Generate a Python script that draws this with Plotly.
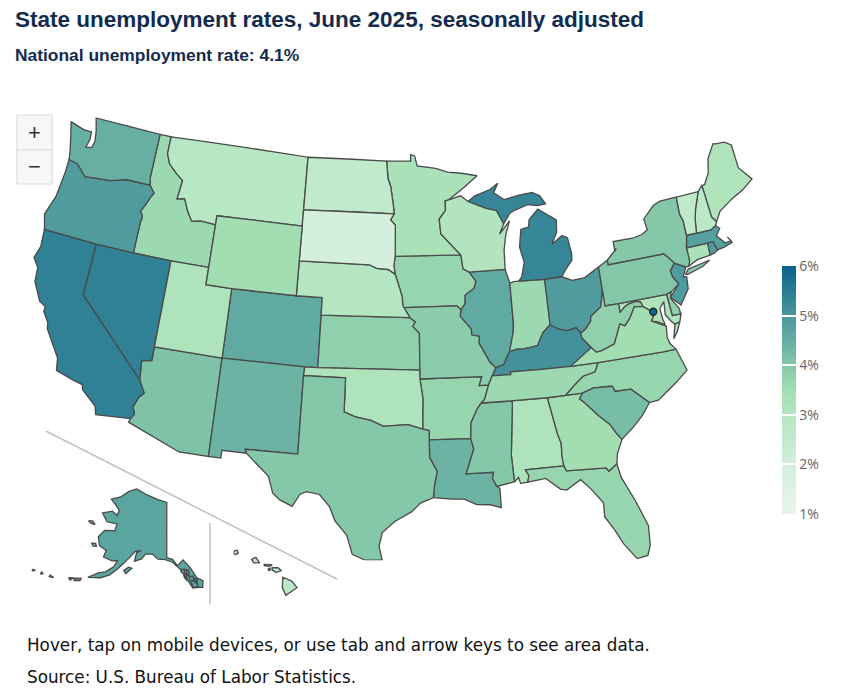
import math
import plotly.graph_objects as go
from plotly.colors import sample_colorscale

TITLE = "State unemployment rates, June 2025, seasonally adjusted"
SUBTITLE = "National unemployment rate: 4.1%"
NOTE = "Hover, tap on mobile devices, or use tab and arrow keys to see area data."
SOURCE = "Source: U.S. Bureau of Labor Statistics."

states = ["AL","AK","AZ","AR","CA","CO","CT","DE","FL","GA","HI","ID","IL","IN","IA","KS","KY","LA","ME","MD",
          "MA","MI","MN","MS","MO","MT","NE","NV","NH","NJ","NM","NY","NC","ND","OH","OK","OR","PA","RI","SC",
          "SD","TN","TX","UT","VT","VA","WA","WV","WI","WY"]
rates = [3.2,4.7,4.1,3.7,5.4,4.6,3.3,3.8,3.7,3.5,2.8,3.6,4.6,3.6,3.7,3.8,5.1,4.4,3.2,3.2,
         4.8,5.3,3.3,4.0,3.9,2.9,3.0,5.4,2.8,4.9,4.4,4.0,3.7,2.6,4.9,3.2,4.9,4.0,4.9,4.2,
         1.9,3.6,4.0,3.2,2.6,3.5,4.5,3.8,3.1,3.5]
dc_name = ["District of Columbia"]
dc_rate = [5.9]
dc_lon = [-77.03]
dc_lat = [38.9]
tick_values = [1,2,3,4,5,6]
tick_labels = ["1%","2%","3%","4%","5%","6%"]

# State boundaries (lon, lat), one list of rings per state: geographic data handed to the projection.
BOUNDARIES = {
"WA":[[(-124.73,48.38),(-123.5,48.15),(-122.8,48.15),(-122.75,47.7),(-122.9,47.2),(-122.4,47.3),(-122.3,47.7),(-122.45,48.3),(-122.75,49.0),(-117.03,49.0),(-117.04,46.42),(-116.92,46.0),(-118.98,46.0),(-119.3,45.93),(-120.2,45.72),(-121.2,45.65),(-122.3,45.55),(-122.8,45.9),(-123.2,46.15),(-123.95,46.25),(-124.1,46.8),(-124.4,47.6)]],
"OR":[[(-123.95,46.25),(-123.2,46.15),(-122.8,45.9),(-122.3,45.55),(-121.2,45.65),(-120.2,45.72),(-119.3,45.93),(-118.98,46.0),(-116.92,46.0),(-116.46,45.61),(-116.67,45.32),(-116.85,44.98),(-117.22,44.4),(-117.03,44.24),(-116.95,44.08),(-117.03,43.83),(-117.03,42.0),(-120.0,42.0),(-124.21,42.0),(-124.56,42.84),(-124.1,44.0),(-123.95,45.5)]],
"CA":[[(-124.21,42.0),(-120.0,42.0),(-120.0,39.0),(-114.63,35.0),(-114.14,34.3),(-114.45,34.0),(-114.72,33.4),(-114.52,33.03),(-114.72,32.72),(-117.12,32.53),(-117.3,33.0),(-118.4,33.75),(-118.5,34.03),(-119.2,34.15),(-120.5,34.45),(-120.65,35.15),(-121.9,36.6),(-122.0,36.95),(-122.5,37.5),(-122.5,37.8),(-123.0,38.0),(-123.75,39.0),(-123.85,39.8),(-124.35,40.3),(-124.1,41.0)]],
"NV":[[(-120.0,42.0),(-117.03,42.0),(-114.04,42.0),(-114.04,37.0),(-114.04,36.2),(-114.75,36.1),(-114.63,35.0),(-120.0,39.0)]],
"ID":[[(-117.03,49.0),(-116.05,49.0),(-116.05,48.0),(-115.7,47.45),(-115.0,47.0),(-114.35,46.65),(-114.5,45.55),(-113.9,45.65),(-113.45,44.95),(-113.0,44.45),(-112.3,44.55),(-111.05,44.48),(-111.05,42.0),(-114.04,42.0),(-117.03,42.0),(-117.03,43.83),(-116.95,44.08),(-117.03,44.24),(-117.22,44.4),(-116.85,44.98),(-116.67,45.32),(-116.46,45.61),(-116.92,46.0),(-117.04,46.42)]],
"MT":[[(-116.05,49.0),(-104.05,49.0),(-104.05,45.94),(-104.05,45.0),(-111.05,45.0),(-111.05,44.48),(-112.3,44.55),(-113.0,44.45),(-113.45,44.95),(-113.9,45.65),(-114.5,45.55),(-114.35,46.65),(-115.0,47.0),(-115.7,47.45),(-116.05,48.0)]],
"WY":[[(-111.05,45.0),(-104.05,45.0),(-104.05,43.0),(-104.05,41.0),(-109.05,41.0),(-111.05,41.0),(-111.05,42.0),(-111.05,44.48)]],
"UT":[[(-114.04,42.0),(-111.05,42.0),(-111.05,41.0),(-109.05,41.0),(-109.05,37.0),(-114.04,37.0)]],
"AZ":[[(-114.04,37.0),(-109.05,37.0),(-109.05,31.33),(-111.07,31.33),(-114.81,32.5),(-114.72,32.72),(-114.52,33.03),(-114.72,33.4),(-114.45,34.0),(-114.14,34.3),(-114.63,35.0),(-114.75,36.1),(-114.04,36.2)]],
"CO":[[(-109.05,41.0),(-104.05,41.0),(-102.05,41.0),(-102.05,40.0),(-102.05,37.0),(-103.0,37.0),(-109.05,37.0)]],
"NM":[[(-109.05,37.0),(-103.0,37.0),(-103.04,36.5),(-103.04,32.0),(-106.62,32.0),(-106.53,31.78),(-108.21,31.78),(-108.21,31.33),(-109.05,31.33)]],
"ND":[[(-104.05,49.0),(-97.23,49.0),(-97.1,48.0),(-96.85,47.5),(-96.6,46.3),(-96.56,45.94),(-104.05,45.94)]],
"SD":[[(-104.05,45.94),(-96.56,45.94),(-96.85,45.6),(-96.45,45.3),(-96.45,43.5),(-96.55,43.0),(-96.45,42.49),(-97.0,42.75),(-97.9,42.8),(-98.5,43.0),(-104.05,43.0),(-104.05,45.0)]],
"NE":[[(-104.05,43.0),(-98.5,43.0),(-97.9,42.8),(-97.0,42.75),(-96.45,42.49),(-96.1,41.7),(-95.9,41.2),(-95.85,40.7),(-95.77,40.58),(-95.31,40.0),(-102.05,40.0),(-102.05,41.0),(-104.05,41.0)]],
"KS":[[(-102.05,40.0),(-95.31,40.0),(-94.9,39.75),(-95.1,39.5),(-94.61,39.11),(-94.62,37.0),(-102.05,37.0)]],
"OK":[[(-103.0,37.0),(-102.05,37.0),(-94.62,37.0),(-94.62,36.5),(-94.43,35.4),(-94.48,33.64),(-95.5,33.9),(-96.6,33.85),(-97.2,33.8),(-98.1,34.13),(-99.2,34.3),(-100.0,34.56),(-100.0,36.5),(-103.04,36.5)]],
"TX":[[(-103.04,36.5),(-100.0,36.5),(-100.0,34.56),(-99.2,34.3),(-98.1,34.13),(-97.2,33.8),(-96.6,33.85),(-95.5,33.9),(-94.48,33.64),(-94.04,33.55),(-94.04,33.02),(-94.04,32.0),(-93.55,31.2),(-93.75,30.4),(-93.84,29.7),(-94.7,29.4),(-95.3,28.9),(-96.4,28.35),(-97.2,27.7),(-97.4,26.9),(-97.15,25.96),(-97.6,25.85),(-98.2,26.05),(-99.1,26.4),(-99.5,27.5),(-100.3,28.3),(-100.7,29.1),(-101.4,29.77),(-102.3,29.88),(-102.7,29.7),(-103.15,28.98),(-104.0,29.3),(-104.5,29.65),(-104.9,30.6),(-106.0,31.4),(-106.53,31.78),(-106.62,32.0),(-103.04,32.0)]],
"MN":[[(-97.23,49.0),(-95.15,49.0),(-95.15,49.38),(-94.8,49.3),(-94.6,48.72),(-93.0,48.55),(-92.0,48.3),(-90.8,48.2),(-89.5,48.0),(-90.8,47.3),(-92.0,46.7),(-92.3,46.65),(-92.3,46.1),(-92.85,45.6),(-92.75,44.75),(-91.22,43.5),(-96.45,43.5),(-96.45,45.3),(-96.85,45.6),(-96.56,45.94),(-96.6,46.3),(-96.85,47.5),(-97.1,48.0)]],
"IA":[[(-96.45,43.5),(-91.22,43.5),(-91.1,42.7),(-90.65,42.5),(-90.15,41.95),(-90.35,41.55),(-91.05,41.2),(-91.1,40.7),(-91.42,40.38),(-91.72,40.6),(-95.77,40.58),(-95.85,40.7),(-95.9,41.2),(-96.1,41.7),(-96.45,42.49),(-96.55,43.0)]],
"MO":[[(-95.77,40.58),(-91.72,40.6),(-91.42,40.38),(-91.5,40.0),(-90.73,39.25),(-90.7,38.9),(-90.15,38.8),(-90.2,38.4),(-89.5,37.3),(-89.1,36.95),(-89.4,36.5),(-89.7,36.0),(-90.37,36.0),(-90.15,36.5),(-94.62,36.5),(-94.62,37.0),(-94.61,39.11),(-95.1,39.5),(-94.9,39.75),(-95.31,40.0)]],
"AR":[[(-94.62,36.5),(-90.15,36.5),(-90.37,36.0),(-89.7,36.0),(-90.05,35.2),(-90.3,35.0),(-90.6,34.7),(-91.1,33.9),(-91.17,33.0),(-94.04,33.02),(-94.04,33.55),(-94.48,33.64),(-94.43,35.4)]],
"LA":[[(-94.04,33.02),(-91.17,33.0),(-91.0,32.4),(-91.6,31.0),(-89.75,31.0),(-89.85,30.65),(-89.6,30.18),(-89.4,30.05),(-89.4,29.8),(-89.4,28.95),(-90.1,29.15),(-91.0,29.2),(-91.8,29.55),(-92.6,29.58),(-93.84,29.7),(-93.75,30.4),(-93.55,31.2),(-94.04,32.0)]],
"MS":[[(-91.17,33.0),(-91.1,33.9),(-90.6,34.7),(-90.3,35.0),(-88.2,35.0),(-88.1,34.9),(-88.47,31.9),(-88.4,30.37),(-89.6,30.18),(-89.85,30.65),(-89.75,31.0),(-91.6,31.0),(-91.0,32.4)]],
"AL":[[(-88.2,35.0),(-85.6,34.98),(-85.18,32.87),(-85.0,32.3),(-85.05,31.55),(-85.0,31.0),(-87.6,31.0),(-87.4,30.65),(-87.52,30.28),(-88.0,30.25),(-88.1,30.6),(-88.4,30.37),(-88.47,31.9),(-88.1,34.9)]],
"TN":[[(-89.4,36.5),(-88.05,36.5),(-88.05,36.65),(-86.0,36.63),(-83.68,36.6),(-81.68,36.59),(-82.0,36.1),(-82.9,35.95),(-83.5,35.57),(-84.3,35.0),(-85.6,34.98),(-88.2,35.0),(-90.3,35.0),(-90.05,35.2),(-89.7,36.0)]],
"KY":[[(-89.4,36.5),(-89.1,36.95),(-88.5,37.1),(-88.0,37.8),(-87.5,37.9),(-87.0,37.9),(-86.5,37.93),(-85.9,38.0),(-85.4,38.7),(-84.8,39.1),(-84.2,38.8),(-83.6,38.65),(-82.9,38.75),(-82.6,38.4),(-82.6,38.15),(-82.0,37.5),(-83.68,36.6),(-86.0,36.63),(-88.05,36.65),(-88.05,36.5)]],
"IL":[[(-91.42,40.38),(-91.1,40.7),(-91.05,41.2),(-90.35,41.55),(-90.15,41.95),(-90.65,42.5),(-87.8,42.5),(-87.53,41.7),(-87.53,39.35),(-87.6,38.9),(-88.0,37.8),(-88.5,37.1),(-89.1,36.95),(-89.5,37.3),(-90.2,38.4),(-90.15,38.8),(-90.7,38.9),(-90.73,39.25),(-91.5,40.0)]],
"WI":[[(-92.3,46.65),(-92.0,46.7),(-91.0,46.9),(-90.4,46.55),(-89.0,46.1),(-88.1,45.9),(-87.6,45.1),(-88.0,44.55),(-87.1,45.25),(-87.5,44.5),(-87.75,43.6),(-87.8,42.5),(-90.65,42.5),(-91.1,42.7),(-91.22,43.5),(-92.75,44.75),(-92.85,45.6),(-92.3,46.1)]],
"MI":[[(-86.82,41.76),(-84.81,41.7),(-83.45,41.73),(-83.15,42.05),(-82.5,42.6),(-82.45,43.0),(-82.6,43.9),(-83.0,44.07),(-83.9,43.65),(-83.4,44.3),(-83.3,45.0),(-84.7,45.75),(-85.5,45.2),(-85.6,44.8),(-86.25,44.7),(-86.5,43.7),(-86.25,42.8),(-86.55,42.0)],
      [(-90.4,46.55),(-89.8,46.85),(-88.5,47.15),(-87.8,47.47),(-88.2,46.95),(-87.4,46.5),(-86.1,46.67),(-85.0,46.75),(-84.4,46.5),(-84.0,46.0),(-84.7,45.95),(-85.5,46.08),(-86.5,45.85),(-87.0,45.7),(-87.6,45.1),(-88.1,45.9),(-89.0,46.1)]],
"IN":[[(-87.53,41.7),(-87.2,41.76),(-86.82,41.76),(-84.81,41.7),(-84.8,39.1),(-85.4,38.7),(-85.9,38.0),(-86.5,37.93),(-87.0,37.9),(-87.5,37.9),(-88.0,37.8),(-87.6,38.9),(-87.53,39.35)]],
"OH":[[(-84.81,41.7),(-83.45,41.73),(-82.7,41.45),(-81.7,41.5),(-80.52,41.98),(-80.52,40.64),(-80.7,40.1),(-80.85,39.7),(-81.7,39.25),(-81.75,39.0),(-82.2,38.6),(-82.6,38.4),(-82.9,38.75),(-83.6,38.65),(-84.2,38.8),(-84.8,39.1)]],
"WV":[[(-82.6,38.4),(-82.2,38.6),(-81.75,39.0),(-81.7,39.25),(-80.85,39.7),(-80.7,40.1),(-80.52,40.64),(-80.52,39.72),(-79.48,39.72),(-79.48,39.2),(-79.1,39.47),(-78.75,39.6),(-78.2,39.68),(-77.83,39.6),(-77.72,39.32),(-78.35,39.4),(-78.87,38.77),(-79.3,38.42),(-79.65,38.58),(-80.3,37.5),(-81.25,37.25),(-81.68,37.2),(-82.0,37.5),(-82.6,38.15)]],
"VA":[[(-83.68,36.6),(-82.0,37.5),(-81.68,37.2),(-81.25,37.25),(-80.3,37.5),(-79.65,38.58),(-79.3,38.42),(-78.87,38.77),(-78.35,39.4),(-77.72,39.32),(-77.1,38.9),(-77.05,38.7),(-77.3,38.4),(-76.3,37.95),(-76.4,37.3),(-76.3,36.95),(-75.95,36.55),(-76.9,36.55),(-81.68,36.59)],
      [(-75.95,37.15),(-75.65,37.95),(-75.25,38.03),(-75.6,37.5)]],
"MD":[[(-79.48,39.72),(-75.79,39.72),(-75.7,38.46),(-75.05,38.45),(-75.25,38.03),(-75.65,37.95),(-75.9,38.2),(-76.2,38.6),(-76.1,39.35),(-76.5,39.0),(-76.45,38.4),(-76.35,38.05),(-76.9,38.3),(-77.3,38.4),(-77.05,38.7),(-77.1,38.9),(-77.72,39.32),(-77.83,39.6),(-78.2,39.68),(-78.75,39.6),(-79.1,39.47),(-79.48,39.2)]],
"DE":[[(-75.79,39.72),(-75.4,39.8),(-75.55,39.45),(-75.1,38.8),(-75.05,38.45),(-75.7,38.46)]],
"PA":[[(-80.52,41.98),(-79.76,42.27),(-79.76,42.0),(-75.35,42.0),(-75.05,41.75),(-74.7,41.36),(-75.13,40.97),(-75.05,40.6),(-74.72,40.15),(-75.4,39.8),(-75.79,39.72),(-79.48,39.72),(-80.52,39.72),(-80.52,40.64)]],
"NJ":[[(-74.7,41.36),(-73.9,41.0),(-74.25,40.48),(-74.0,40.45),(-74.1,39.75),(-74.9,38.95),(-75.55,39.5),(-74.72,40.15),(-75.05,40.6),(-75.13,40.97)]],
"NY":[[(-79.76,42.27),(-79.76,42.0),(-75.35,42.0),(-75.05,41.75),(-74.7,41.36),(-73.9,41.0),(-73.65,41.0),(-73.5,41.3),(-73.5,42.05),(-73.26,42.75),(-73.25,43.6),(-73.4,44.0),(-73.34,45.01),(-74.7,45.0),(-75.3,44.85),(-76.3,44.2),(-76.2,43.55),(-76.7,43.35),(-77.5,43.25),(-79.05,43.27),(-79.05,42.7),(-78.9,42.85)],
      [(-74.03,40.6),(-73.75,40.85),(-72.6,40.98),(-72.0,41.05),(-72.6,40.8),(-73.9,40.55)]],
"CT":[[(-73.5,42.05),(-71.8,42.02),(-71.85,41.32),(-72.9,41.25),(-73.65,41.0),(-73.5,41.3)]],
"RI":[[(-71.8,42.02),(-71.38,42.02),(-71.2,41.5),(-71.5,41.37),(-71.85,41.32)]],
"MA":[[(-73.5,42.05),(-73.26,42.75),(-72.46,42.73),(-71.3,42.7),(-70.85,42.87),(-70.6,42.65),(-71.0,42.3),(-70.65,41.95),(-70.5,41.78),(-70.0,41.8),(-70.2,42.07),(-69.95,41.7),(-70.65,41.55),(-71.2,41.5),(-71.38,42.02),(-71.8,42.02)]],
"VT":[[(-73.26,42.75),(-72.46,42.73),(-72.3,43.5),(-72.05,44.1),(-71.5,45.01),(-73.34,45.01),(-73.4,44.0),(-73.25,43.6)]],
"NH":[[(-72.46,42.73),(-71.3,42.7),(-70.85,42.87),(-70.7,43.07),(-70.98,43.4),(-71.08,45.3),(-71.5,45.01),(-72.05,44.1),(-72.3,43.5)]],
"ME":[[(-71.08,45.3),(-70.98,43.4),(-70.7,43.07),(-70.2,43.6),(-69.0,44.1),(-68.0,44.4),(-67.0,44.85),(-67.8,45.7),(-67.8,47.07),(-68.3,47.35),(-69.05,47.4),(-69.25,47.45),(-70.0,46.7),(-70.3,45.9),(-70.85,45.3)]],
"NC":[[(-84.3,35.0),(-83.5,35.57),(-82.9,35.95),(-82.0,36.1),(-81.68,36.59),(-76.9,36.55),(-75.95,36.55),(-75.5,35.25),(-76.5,34.65),(-77.9,33.9),(-78.55,33.86),(-79.67,34.8),(-80.8,34.82),(-80.9,35.1),(-81.05,35.15),(-82.3,35.2),(-83.1,35.0)]],
"SC":[[(-83.1,35.0),(-82.3,35.2),(-81.05,35.15),(-80.9,35.1),(-80.8,34.82),(-79.67,34.8),(-78.55,33.86),(-79.2,33.2),(-80.0,32.6),(-80.85,32.05),(-81.2,32.5),(-81.5,33.0),(-82.2,33.6),(-83.0,34.4),(-83.35,34.7)]],
"GA":[[(-85.6,34.98),(-84.3,35.0),(-83.1,35.0),(-83.35,34.7),(-83.0,34.4),(-82.2,33.6),(-81.5,33.0),(-81.2,32.5),(-80.85,32.05),(-81.3,31.3),(-81.45,30.72),(-82.05,30.36),(-82.2,30.57),(-84.86,30.7),(-85.0,31.0),(-85.05,31.55),(-85.0,32.3),(-85.18,32.87)]],
"FL":[[(-87.6,31.0),(-85.0,31.0),(-84.86,30.7),(-82.2,30.57),(-82.05,30.36),(-81.45,30.72),(-81.3,29.9),(-80.6,28.4),(-80.05,26.9),(-80.15,25.75),(-80.4,25.2),(-81.1,25.12),(-81.8,26.1),(-82.2,26.9),(-82.75,27.8),(-82.7,28.6),(-83.4,29.5),(-84.0,30.1),(-85.0,29.6),(-85.4,29.7),(-86.3,30.4),(-87.52,30.28),(-87.4,30.65)]],
"AK":[[(-141.0,69.65),(-141.0,60.3),(-139.0,60.0),(-137.5,58.9),(-135.5,59.8),(-133.4,58.4),(-131.8,56.6),(-130.0,55.9),(-130.4,54.8),(-131.5,54.9),(-133.3,54.9),(-134.5,56.2),(-135.5,57.2),(-136.6,58.2),(-139.0,59.5),(-141.5,59.95),(-144.0,60.0),(-146.0,60.8),(-148.4,60.7),(-149.5,59.8),(-151.8,59.2),(-151.5,60.7),(-150.0,61.2),(-152.0,60.9),(-154.0,59.4),(-156.5,57.5),(-158.5,56.1),(-161.0,55.2),(-164.5,54.6),(-162.0,55.9),(-160.0,56.4),(-158.0,57.6),(-157.2,58.8),(-159.0,58.5),(-162.0,58.7),(-161.8,59.9),(-164.5,60.3),(-166.0,61.6),(-164.7,63.0),(-161.0,63.5),(-161.0,64.7),(-165.0,64.5),(-168.0,65.6),(-164.5,66.5),(-162.0,66.1),(-161.8,67.0),(-164.0,67.7),(-166.8,68.35),(-163.0,69.3),(-160.0,70.6),(-156.6,71.35),(-152.0,70.8),(-146.0,70.15)],
      [(-154.6,57.4),(-153.3,58.1),(-152.2,58.0),(-153.8,56.9)],
      [(-171.7,63.4),(-170.3,63.7),(-168.8,63.3),(-170.5,63.2)],
      [(-167.3,60.2),(-166.0,60.4),(-165.4,60.0),(-166.5,59.8)],
      [(-168.0,53.6),(-166.2,54.0),(-166.3,53.6),(-167.8,53.2)],
      [(-169.6,53.3),(-168.2,53.6),(-168.9,53.0)],
      [(-174.5,52.3),(-173.3,52.2),(-174.5,52.0)],
      [(-176.9,52.0),(-176.3,51.9),(-176.9,51.6)],
      [(-179.3,51.6),(-178.6,51.7),(-179.3,51.3)],
      [(-136.5,58.2),(-135.2,58.2),(-135.3,57.4),(-136.3,57.7)],
      [(-135.8,57.5),(-134.9,57.4),(-134.7,56.2),(-135.5,56.8)],
      [(-134.7,58.1),(-134.0,58.0),(-134.0,57.1),(-134.6,57.2)],
      [(-134.0,56.9),(-132.8,56.9),(-132.8,56.0),(-133.8,56.2)],
      [(-133.6,56.1),(-132.0,56.0),(-131.6,55.0),(-133.2,55.0)],
      [(-132.6,56.5),(-131.7,56.3),(-131.8,55.5),(-132.3,55.7)]],
"HI":[[(-155.88,20.26),(-155.2,19.98),(-154.8,19.5),(-155.65,18.95),(-155.92,19.5)],
      [(-156.7,20.95),(-156.25,20.95),(-156.0,20.75),(-156.4,20.6),(-156.7,20.8)],
      [(-157.3,21.2),(-156.7,21.17),(-156.85,21.05),(-157.3,21.1)],
      [(-158.27,21.55),(-157.95,21.7),(-157.65,21.3),(-158.1,21.3)],
      [(-159.75,22.1),(-159.4,22.23),(-159.3,22.0),(-159.55,21.88)],
      [(-156.98,20.9),(-156.85,20.9),(-156.85,20.75),(-156.98,20.77)],
      [(-160.25,22.0),(-160.1,22.0),(-160.1,21.8)]],
}

colorscale = [[0.0,"#e9f5ec"],[0.2,"#d3eedb"],[0.4,"#b5e6c2"],[0.5,"#a3deb2"],[0.6,"#84c7a9"],
              [0.8,"#4a969d"],[1.0,"#0a628c"]]
ZMIN, ZMAX = 1, 6
INSET = {"AK":"geo2","HI":"geo3"}

def clockwise(ring):
    area = sum(a[0]*b[1]-b[0]*a[1] for a, b in zip(ring, ring[1:]+ring[:1]))
    r = list(ring) if area < 0 else list(reversed(ring))
    return r + [r[0]]

W, H = 843, 700
px = lambda x: (x-8)/W
py = lambda y: 1-(y-8)/H

def albers(lon, lat, lon0, pars):
    p1, p2 = math.radians(pars[0]), math.radians(pars[1])
    n = (math.sin(p1)+math.sin(p2))/2
    c = math.cos(p1)**2 + 2*n*math.sin(p1)
    rho = math.sqrt(max(c-2*n*math.sin(math.radians(lat)),0))/n
    rho0 = math.sqrt(c)/n
    t = n*math.radians(lon-lon0)
    return rho*math.sin(t), rho*math.cos(t)-rho0

def view(codes, lon0, pars, lat_c, left, right, top, lon_half, lat_low, lat_high, pad_x, pad_y):
    """Frame one subplot so that the rings of `codes` land in the pixel box given."""
    pts = [albers(p[0],p[1],lon0,pars) for s in codes for r in BOUNDARIES[s] for p in r]
    xs, ys = [p[0] for p in pts], [p[1] for p in pts]
    k = (right-left)/(max(xs)-min(xs))
    _, yc = albers(lon0,lat_c,lon0,pars)
    mx = left-k*min(xs)
    my = top-k*(min(ys)-yc)
    hw = max(right-mx, mx-left)+pad_x
    hh = max(k*(max(ys)-min(ys))-(my-top), my-top)+pad_y
    lons = [lon0-lon_half+i*2*lon_half/60 for i in range(61)]
    lats = [lat_low+i*(lat_high-lat_low)/60 for i in range(61)]
    edge = [albers(l,lat_low,lon0,pars) for l in lons]+[albers(l,lat_high,lon0,pars) for l in lons] \
         + [albers(lon0-lon_half,a,lon0,pars) for a in lats]+[albers(lon0+lon_half,a,lon0,pars) for a in lats]
    bw = max(e[0] for e in edge)-min(e[0] for e in edge)
    bh = max(e[1] for e in edge)-min(e[1] for e in edge)
    fit = min(2*hw/bw, 2*hh/bh)
    return dict(
        projection=dict(type="albers", rotation=dict(lon=lon0), parallels=pars, scale=k/fit),
        center=dict(lon=lon0, lat=lat_c),
        lonaxis=dict(range=[lon0-lon_half, lon0+lon_half]),
        lataxis=dict(range=[lat_low, lat_high]),
        domain=dict(x=[px(mx-hw), px(mx+hw)], y=[py(my+hh), py(my-hh)]),
        showland=False, showlakes=False, showcoastlines=False, showcountries=False,
        showsubunits=False, showframe=False, showocean=False, showrivers=False,
        bgcolor="rgba(0,0,0,0)")

fig = go.Figure()
for s, v in zip(states, rates):
    lon, lat = [], []
    for ring in BOUNDARIES[s]:
        closed = clockwise(ring)
        lon += [p[0] for p in closed] + [None]
        lat += [p[1] for p in closed] + [None]
    fig.add_trace(go.Scattergeo(
        lon=lon[:-1], lat=lat[:-1], mode="lines", fill="toself", name=s, showlegend=False,
        geo=INSET.get(s, "geo"),
        fillcolor=sample_colorscale(colorscale, (v-ZMIN)/(ZMAX-ZMIN))[0],
        line=dict(color="#4a4a4a", width=1.3), hoverinfo="text", text=f"{s}: {v}%",
    ))
fig.add_trace(go.Scattergeo(
    lon=dc_lon, lat=dc_lat, text=dc_name, mode="markers", showlegend=False,
    marker=dict(size=7, color=dc_rate, cmin=ZMIN, cmax=ZMAX, colorscale=colorscale,
                line=dict(color="#222222", width=1.3), showscale=True,
                colorbar=dict(x=px(782), xanchor="left", y=py(266), yanchor="top", lenmode="pixels", len=248,
                  thickness=14, thicknessmode="pixels", outlinewidth=0, xpad=0, ypad=0,
                  tickmode="array", tickvals=tick_values, ticktext=tick_labels,
                  ticks="inside", ticklen=14, tickwidth=2, tickcolor="white",
                  tickfont=dict(family="Open Sans", size=14, color="#666666"))),
))

ann = []
def label(text, x, y, size, family, color, bold=False):
    ann.append(dict(text=f"<b>{text}</b>" if bold else text, xref="paper", yref="paper", x=px(x-1), y=py(y),
                    xanchor="left", yanchor="middle", showarrow=False,
                    font=dict(family=family, size=size, color=color)))
label(TITLE, 14, 20, 22.5, "Liberation Sans", "#122b4e", True)
label(SUBTITLE, 14, 55, 17.4, "Liberation Sans", "#122b4e", True)
label(NOTE, 26, 645, 16.8, "DejaVu Sans", "#111111")
label(SOURCE, 26, 677, 16.8, "DejaVu Sans", "#111111")
for sym, y in (("+",132),("−",167)):
    ann.append(dict(text=sym, xref="paper", yref="paper", x=px(34.5), y=py(y), xanchor="center", yanchor="middle",
                    showarrow=False, font=dict(family="Liberation Sans", size=22, color="#333333")))

shapes = []
def rect(x0,y0,x1,y1):
    shapes.append(dict(type="rect", xref="paper", yref="paper", x0=px(x0), x1=px(x1), y0=py(y1), y1=py(y0),
                       fillcolor="#f7f7f7", line=dict(color="#dddddd", width=1.2)))
rect(17,115,52,150); rect(17,150,52,184)
for x0,y0,x1,y1 in ((46,431,337,579),(210,523,210,604)):
    shapes.append(dict(type="line", xref="paper", yref="paper", x0=px(x0), x1=px(x1), y0=py(y0), y1=py(y1),
                       line=dict(color="#c0c0c0", width=1.5)))

lower48 = [s for s in BOUNDARIES if s not in INSET]
fig.update_layout(
    width=W, height=H, margin=dict(l=0,r=0,t=0,b=0), paper_bgcolor="white", showlegend=False,
    annotations=ann, shapes=shapes,
    geo=view(lower48, -96, [29.5,45.5], 38.8, 34, 752, 118, 40, 15, 58, 5, 40),
    geo2=view(["AK"], -141, [55,65], 60, 32, 203, 489, 50, 35, 80, 5, 30),
    geo3=view(["HI"], -157, [8,18], 20.5, 226, 297, 550, 5, 16, 24, 5, 5),
)
fig.write_html("out.html")
